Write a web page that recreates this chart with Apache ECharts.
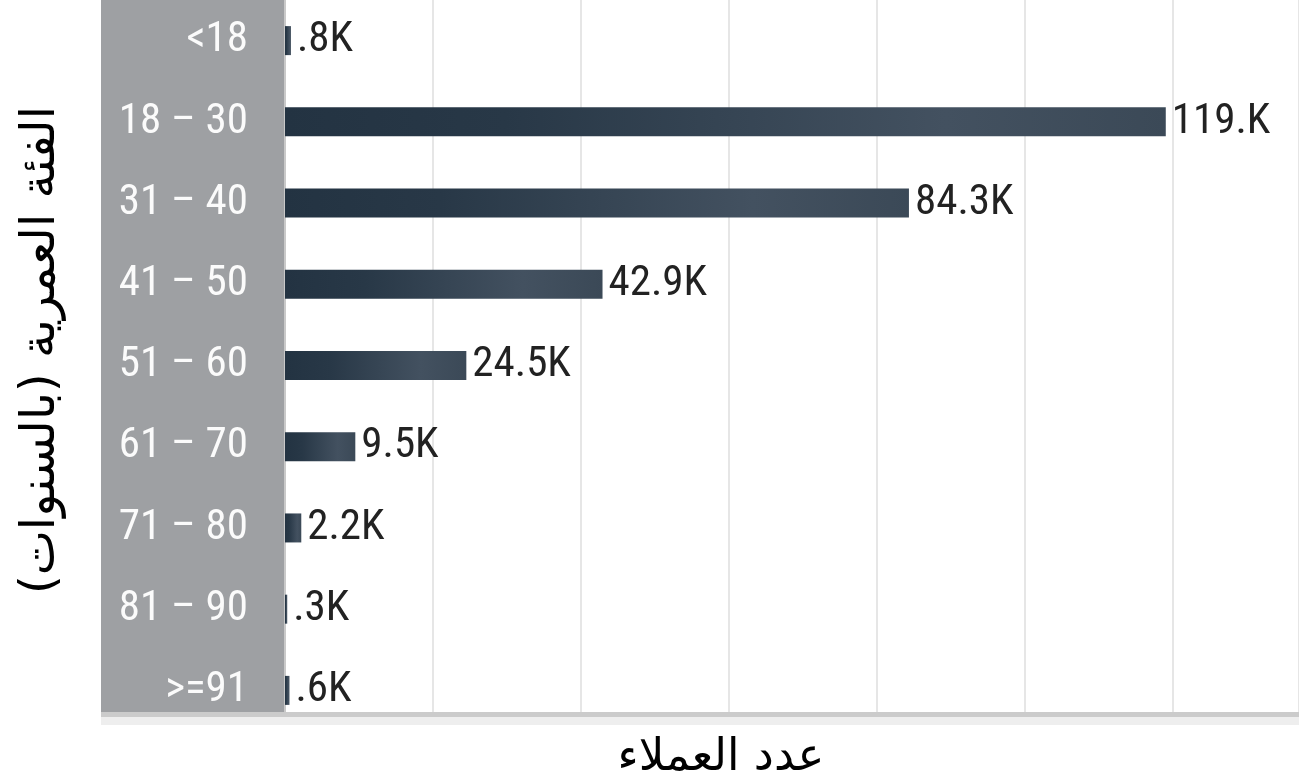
<!DOCTYPE html>
<html>
<head>
<meta charset="utf-8">
<script src="https://cdn.jsdelivr.net/npm/echarts@6/dist/echarts.min.js"></script>
<style>
html,body{margin:0;padding:0;background:#fff;}
#chart{width:1299px;height:778px;}
</style>
</head>
<body>
<div id="chart"></div>
<script>
const categories = ['<18', '18 – 30', '31 – 40', '41 – 50', '51 – 60', '61 – 70', '71 – 80', '81 – 90', '>=91'];
const valuesK = [0.8, 119, 84.3, 42.9, 24.5, 9.5, 2.2, 0.3, 0.6];
const valueLabels = ['.8K', '119.K', '84.3K', '42.9K', '24.5K', '9.5K', '2.2K', '.3K', '.6K'];
const yTitle = 'الفئة العمرية (بالسنوات)';
const xTitle = 'عدد العملاء';

const labelFont = '"Roboto Condensed", "Liberation Sans Narrow", "DejaVu Sans Condensed", sans-serif';
const arabicFont = '"DejaVu Sans", sans-serif';

const chart = echarts.init(document.getElementById('chart'));
chart.setOption({
  animation: false,
  backgroundColor: '#ffffff',
  grid: { left: 285, right: 0, top: -3, height: 734 },
  xAxis: {
    type: 'value', min: 0, max: 137, interval: 20,
    axisLine: { show: false }, axisTick: { show: false }, axisLabel: { show: false },
    splitLine: { show: true, lineStyle: { color: '#dedede', width: 1.5 } }
  },
  yAxis: {
    type: 'category', inverse: true, data: categories,
    axisLine: { show: true, lineStyle: { color: '#c9c9c9', width: 2 } },
    axisTick: { show: false },
    axisLabel: { color: '#fbfbfb', fontFamily: labelFont, fontSize: 43, margin: 37, align: 'right' }
  },
  series: [{
    type: 'bar',
    data: valuesK,
    barWidth: 29,
    itemStyle: {
      color: new echarts.graphic.LinearGradient(0, 0, 1, 0, [
        { offset: 0, color: '#233342' },
        { offset: 0.25, color: '#283847' },
        { offset: 0.75, color: '#435160' },
        { offset: 1, color: '#3b4957' }
      ])
    },
    label: {
      show: true, position: 'right', distance: 6,
      color: '#222222', fontFamily: labelFont, fontSize: 43,
      formatter: p => valueLabels[p.dataIndex]
    },
    z: 3
  }],
  graphic: [
    { type: 'rect', z: -10, silent: true, shape: { x: 101, y: 0, width: 183, height: 712 }, style: { fill: '#9ea0a3' } },
    { type: 'rect', z: 100, silent: true, shape: { x: 0, y: 712, width: 1299, height: 66 }, style: { fill: '#ffffff' } },
    { type: 'rect', z: 101, silent: true, shape: { x: 101, y: 712, width: 1198, height: 5 }, style: { fill: '#cbcbcb' } },
    { type: 'rect', z: 101, silent: true, shape: { x: 101, y: 717, width: 1198, height: 8 }, style: { fill: '#eeeeee' } },
    { type: 'text', z: 102, silent: true, x: 721, y: 736,
      style: { text: xTitle, font: '45px ' + arabicFont, fill: '#000000', textAlign: 'center', textVerticalAlign: 'top' } },
    { type: 'text', z: 102, silent: true, x: 42, y: 350, rotation: Math.PI / 2,
      style: { text: yTitle, font: '48px ' + arabicFont, fill: '#000000', textAlign: 'center', textVerticalAlign: 'middle' } }
  ]
});
</script>
</body>
</html>
